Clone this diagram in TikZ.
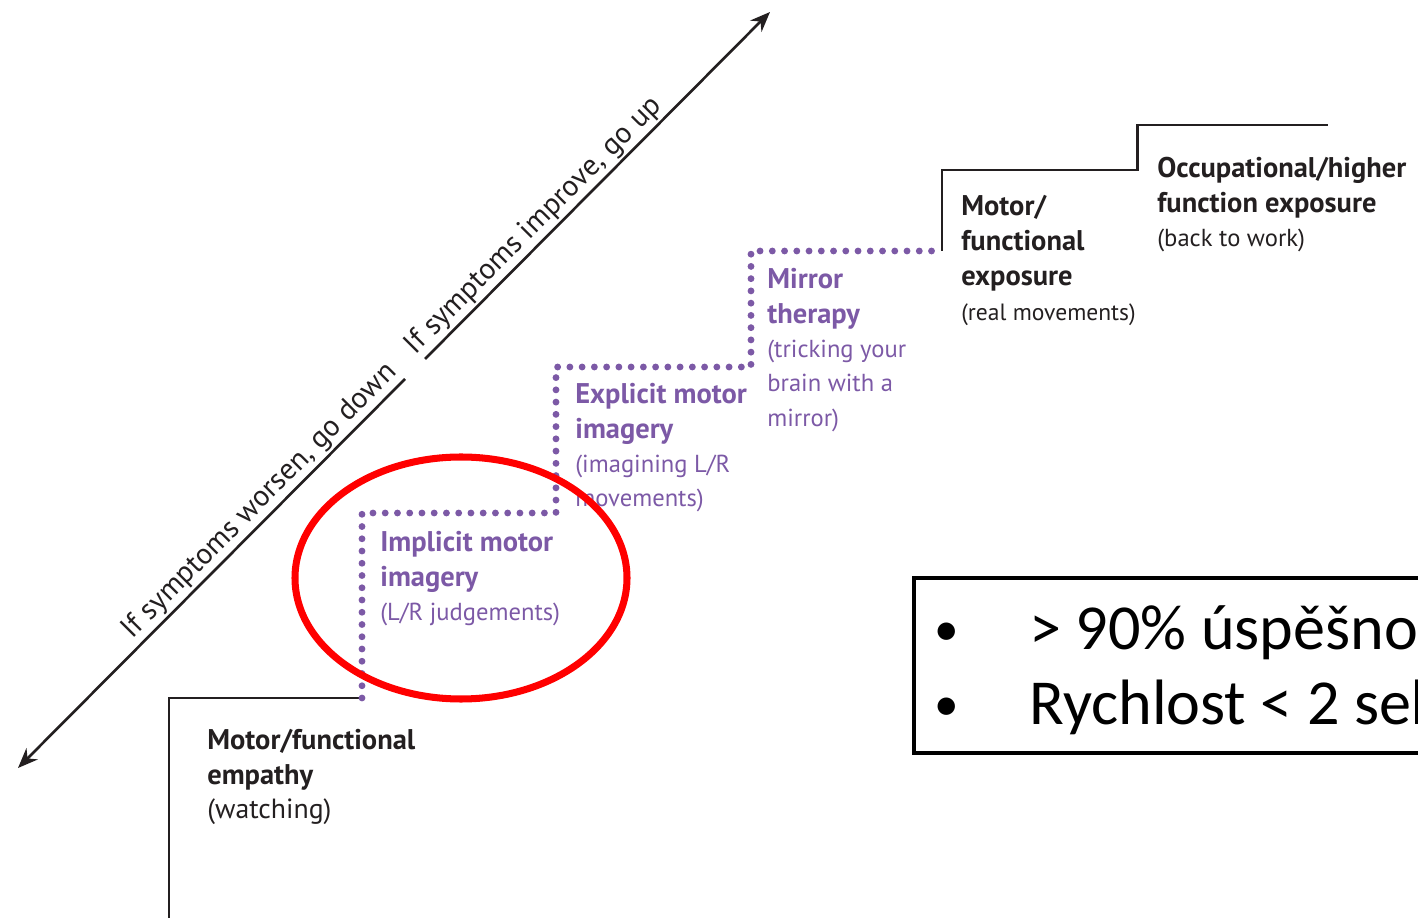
\documentclass[tikz,border=0pt]{standalone}
\usepackage{fontspec}
\setmainfont{PT Sans}
\newfontfamily\critfont{Carlito}
\usetikzlibrary{arrows.meta}
\definecolor{stepviolet}{RGB}{124,89,166}
\definecolor{stepink}{RGB}{35,31,32}
\newcommand\stepnote[2][14]{{\fontsize{#1}{19.6}\selectfont\mdseries #2}}
\newcommand\critbullet{\makebox[1.9cm][l]{\raisebox{2.5pt}{\fontsize{28}{28}\selectfont•}}}

\begin{document}
\begin{tikzpicture}[
  x=0.02cm, y=-0.02cm,
  >={Stealth[length=0.4cm, width=0.32cm]},
  solidstep/.style={draw=stepink, line width=1.7pt},
  dotstep/.style={draw=stepviolet, line width=3.9pt, line cap=round,
                  dash pattern=on 0pt off 0.245cm},
  steptext/.style={anchor=north west, inner sep=0pt, align=left,
                   text=stepink, font=\fontsize{16.2}{19.6}\selectfont\bfseries},
  violettext/.style={steptext, text=stepviolet},
  slopetext/.style={sloped, above=1pt, inner sep=0pt, text=stepink,
                    font=\fontsize{16.8}{18}\selectfont},
  crittext/.style={anchor=base west, inner sep=0pt,
                   font=\critfont\fontsize{36.5}{42}\selectfont},
]
  \useasboundingbox (0,0) rectangle (1418,918);
  \clip (0,0) rectangle (1418,918);

  % Diagonal arrow
  \coordinate (down) at (18,768);
  \coordinate (up) at (770,12);
  \coordinate (gapA) at (405,379);
  \coordinate (gapB) at (425,359);
  \draw[<-, stepink, line width=1.5pt] (down) -- node[slopetext, pos=0.655]{If symptoms worsen, go down} (gapA);
  \draw[->, stepink, line width=1.5pt] (gapB) -- node[slopetext, pos=0.35]{If symptoms improve, go up} (up);

  % Steps
  \draw[solidstep] (169,918) |- (362,698);
  \draw[dotstep] (362,698) |- (556,513) |- (751,367) |- (942,251);
  \draw[solidstep] (942,251) |- (1137,170) |- (1328,125);

  % Step labels
  \node[steptext] (empathy) at (207,729) {Motor/functional\\empathy\\\stepnote[15.8]{(watching)}};
  \node[violettext] (implicit) at (380,531) {Implicit motor\\imagery\\\stepnote{(L/R judgements)}};
  \node[violettext] (explicit) at (575,383) {Explicit motor\\imagery\\\stepnote{(imagining L/R}\\\stepnote{movements)}};
  \node[violettext] (mirror) at (767,268) {Mirror\\therapy\\\stepnote{(tricking your}\\\stepnote{brain with a}\\\stepnote{mirror)}};
  \node[steptext, font=\fontsize{16.2}{19.9}\selectfont\bfseries] (exposure) at (961,195)
    {Motor/\\functional\\exposure\\\stepnote[13.4]{(real movements)}};
  \node[steptext] (occupation) at (1157,157) {Occupational/higher\\function exposure\\\stepnote{(back to work)}};

  % Highlight
  \draw[red, line width=4pt] (461,578) ellipse [x radius=166, y radius=121];

  % Criteria box
  \draw[black, line width=2.8pt] (1440,578) -| (914,753) -- (1440,753);
  \node[crittext] (crit1) at (934,650) {\critbullet> 90\% úspěšnost};
  \node[crittext] (crit2) at (934,725) {\critbullet Rychlost < 2 sekundy};
\end{tikzpicture}
\end{document}
